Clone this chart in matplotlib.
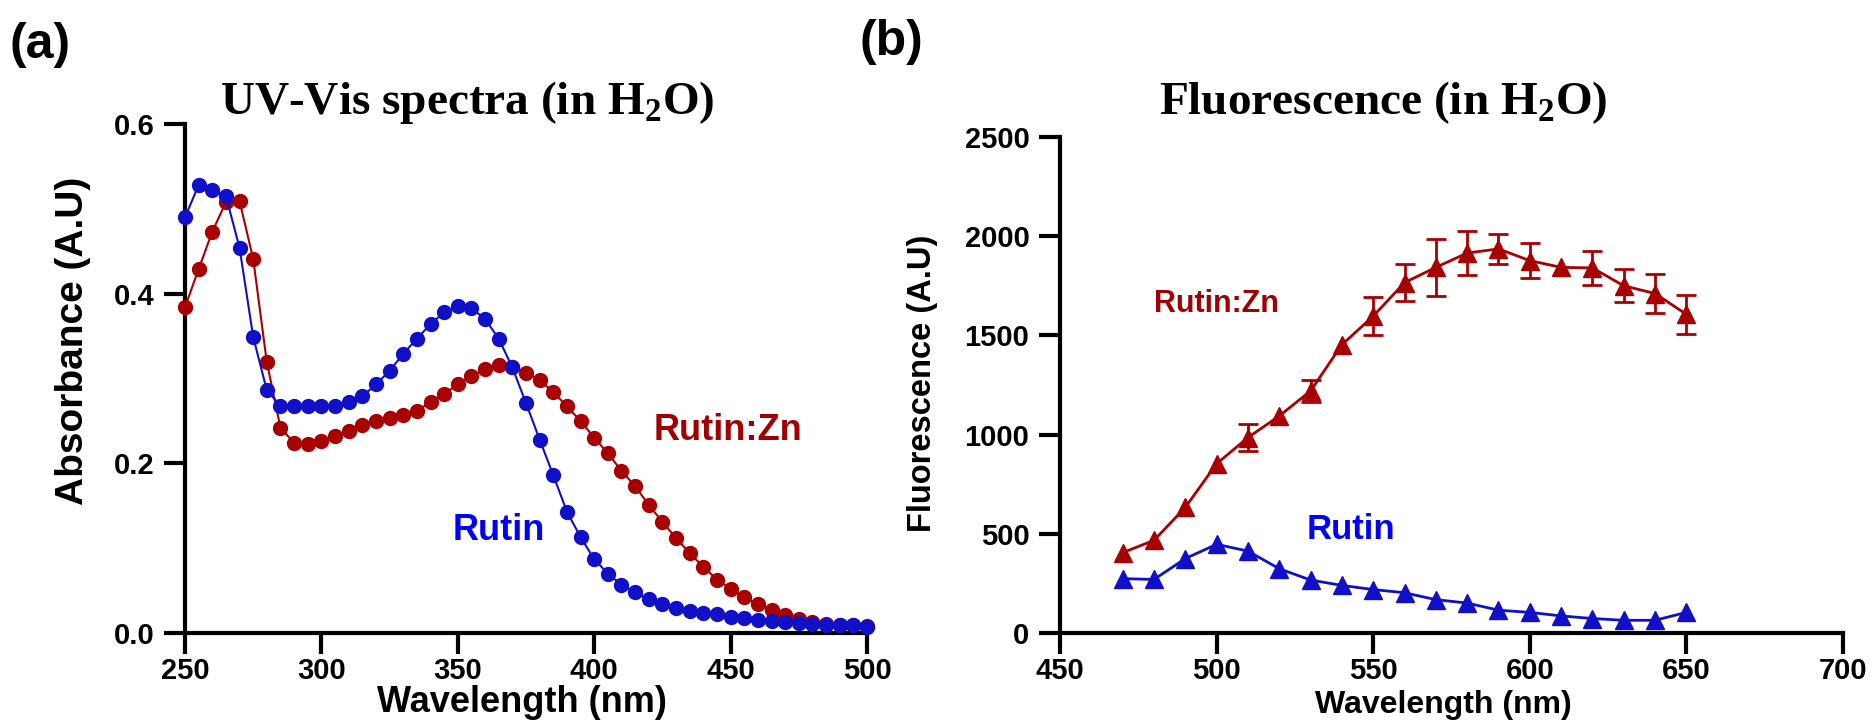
import matplotlib
matplotlib.use("Agg")
import matplotlib.pyplot as plt
import numpy as np

plt.rcParams["font.family"] = ["Liberation Sans", "DejaVu Sans"]
plt.rcParams["font.weight"] = "bold"
plt.rcParams["mathtext.fontset"] = "custom"
plt.rcParams["mathtext.rm"] = "Liberation Serif:bold"
plt.rcParams["mathtext.bf"] = "Liberation Serif:bold"

# (a) UV-Vis absorbance, 250-500 nm every 5 nm
wl_uv = np.arange(250, 501, 5)
rutin_abs = [0.490, 0.528, 0.522, 0.515, 0.454, 0.349, 0.286, 0.268, 0.268, 0.268,
             0.268, 0.268, 0.272, 0.279, 0.293, 0.309, 0.329, 0.347, 0.364, 0.378,
             0.386, 0.383, 0.370, 0.347, 0.313, 0.271, 0.228, 0.186, 0.143, 0.113,
             0.087, 0.070, 0.057, 0.048, 0.040, 0.034, 0.029, 0.026, 0.023, 0.022,
             0.019, 0.018, 0.015, 0.014, 0.013, 0.012, 0.011, 0.010, 0.010, 0.009,
             0.007]
zn_abs = [0.384, 0.429, 0.473, 0.508, 0.509, 0.441, 0.319, 0.242, 0.224, 0.223,
          0.226, 0.232, 0.238, 0.245, 0.250, 0.253, 0.257, 0.262, 0.272, 0.282,
          0.293, 0.303, 0.311, 0.316, 0.314, 0.307, 0.298, 0.284, 0.267, 0.250,
          0.230, 0.212, 0.191, 0.173, 0.151, 0.131, 0.112, 0.094, 0.078, 0.063,
          0.052, 0.042, 0.034, 0.027, 0.021, 0.017, 0.013, 0.011, 0.010, 0.009,
          0.008]

# (b) fluorescence, 470-650 nm every 10 nm
wl_fl = np.arange(470, 651, 10)
rutin_fl = [274, 270, 375, 447, 413, 324, 267, 240, 219, 203,
            168, 151, 115, 104, 86, 73, 64, 64, 104]
zn_fl = [405, 467, 633, 853, 985, 1094, 1220, 1453, 1597, 1766,
         1843, 1915, 1936, 1877, 1843, 1840, 1750, 1711, 1606]
zn_err = [0, 0, 0, 0, 70, 0, 55, 0, 96, 92,
          142, 112, 74, 90, 0, 87, 83, 99, 100]

red = "#A80000"
blue = "#1010C8"

W, H = 1870, 724
fig = plt.figure(figsize=(W / 100, H / 100), dpi=100)


def px_box(left, top, right, bottom):
    return [left / W, 1 - bottom / H, (right - left) / W, (bottom - top) / H]


def style_axes(ax, size):
    for s in ["top", "right"]:
        ax.spines[s].set_visible(False)
    for s in ["left", "bottom"]:
        ax.spines[s].set_linewidth(3)
    ax.tick_params(width=3, length=15, labelsize=size)
    ax.tick_params(axis="x", pad=2)
    ax.tick_params(axis="y", pad=7)


ax1 = fig.add_axes(px_box(185, 124, 867, 633))
ax1.plot(wl_uv, zn_abs, "-o", color=red, ms=10, lw=1.5, clip_on=False, zorder=3)
ax1.plot(wl_uv, rutin_abs, "-o", color=blue, ms=10, lw=1.5, clip_on=False, zorder=4)
ax1.set_xlim(250, 500)
ax1.set_ylim(0, 0.6)
ax1.set_xticks(np.arange(250, 501, 50))
ax1.set_yticks([0, 0.2, 0.4, 0.6])
ax1.set_yticklabels(["0.0", "0.2", "0.4", "0.6"])
style_axes(ax1, 21)
ax1.text(449, 0.239, "Rutin:Zn", color="#A00000", fontsize=26, ha="center", va="center")
ax1.text(365, 0.121, "Rutin", color="#0000FF", fontsize=26, ha="center", va="center")

ax2 = fig.add_axes(px_box(1060, 137, 1843, 633))
m = np.array(zn_err) > 0
ax2.errorbar(wl_fl[m], np.array(zn_fl)[m], yerr=np.array(zn_err)[m], fmt="none",
             ecolor=red, elinewidth=2, capsize=7.5, capthick=2, zorder=2)
ax2.plot(wl_fl, zn_fl, "-^", color=red, ms=13, lw=2, zorder=3)
ax2.plot(wl_fl, rutin_fl, "-^", color=blue, ms=13, lw=2, zorder=3)
ax2.set_xlim(450, 700)
ax2.set_ylim(0, 2500)
ax2.set_xticks(np.arange(450, 701, 50))
ax2.set_yticks(np.arange(0, 2501, 500))
style_axes(ax2, 21)
ax2.text(500, 1660, "Rutin:Zn", color="#A00000", fontsize=22, ha="center", va="center")
ax2.text(543, 521, "Rutin", color="#0000FF", fontsize=25, ha="center", va="center")

# titles and axis labels
serif = ["Liberation Serif", "DejaVu Serif"]
fig.text(467 / W, 1 - 103 / H, "UV-Vis spectra (in H$_2$O)", family=serif,
         fontsize=34, ha="center", va="center")
fig.text(1383 / W, 1 - 103 / H, "Fluorescence (in H$_2$O)", family=serif,
         fontsize=34, ha="center", va="center")
fig.text(73 / W, 1 - 341 / H, "Absorbance (A.U)", fontsize=28, rotation=90,
         ha="center", va="center")
fig.text(522 / W, 1 - 702 / H, "Wavelength (nm)", fontsize=26, ha="center", va="center")
fig.text(922 / W, 1 - 383 / H, "Fluorescence (A.U)", fontsize=23.5, rotation=90,
         ha="center", va="center")
fig.text(1443 / W, 1 - 705 / H, "Wavelength (nm)", fontsize=23, ha="center", va="center")
fig.text(40 / W, 1 - 45 / H, "(a)", fontsize=36, ha="center", va="center")
fig.text(891 / W, 1 - 42 / H, "(b)", fontsize=36, ha="center", va="center")

fig.savefig("out.png", dpi=100)
